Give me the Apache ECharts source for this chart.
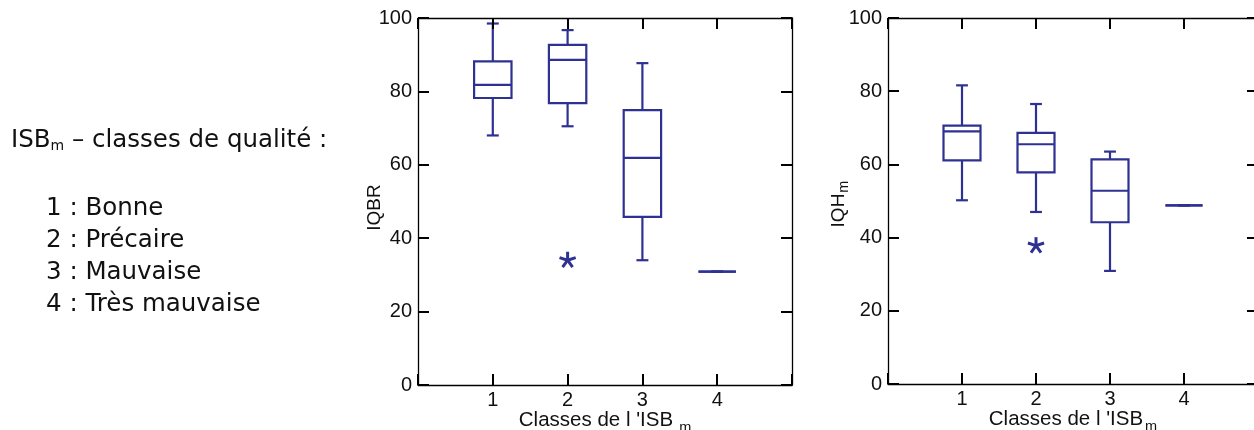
<!DOCTYPE html>
<html>
<head>
<meta charset="utf-8">
<script src="https://cdn.jsdelivr.net/npm/echarts@6/dist/echarts.min.js"></script>
<style>
    html, body { margin: 0; padding: 0; background: #fff; }
    #chart { width: 1254px; height: 430px; }
</style>
</head>
<body>
<div id="chart"></div>
<script type="text/javascript">
    // classes de qualité de l'ISBm
    const classes = [1, 2, 3, 4];
    const qualityLabels = ['Bonne', 'Précaire', 'Mauvaise', 'Très mauvaise'];
    const yTicks = [0, 20, 40, 60, 80, 100];

    // IQBR : [min, Q1, médiane, Q3, max] par classe
    const iqbrMin    = [68.0, 70.5, 34.0, 30.9];
    const iqbrQ1     = [78.2, 76.8, 45.8, 30.9];
    const iqbrMedian = [81.8, 88.6, 61.9, 30.9];
    const iqbrQ3     = [88.2, 92.7, 74.9, 30.9];
    const iqbrMax    = [98.5, 96.7, 87.7, 30.9];
    const iqbrOutliers = [[2, 34.0]];

    // IQHm : [min, Q1, médiane, Q3, max] par classe
    const iqhMin    = [50.2, 47.0, 30.9, 48.8];
    const iqhQ1     = [61.1, 57.8, 44.2, 48.8];
    const iqhMedian = [69.0, 65.5, 52.8, 48.8];
    const iqhQ3     = [70.6, 68.6, 61.4, 48.8];
    const iqhMax    = [81.6, 76.5, 63.5, 48.8];
    const iqhOutliers = [[2, 37.8]];

    const FONT = '"Liberation Sans", Arial, sans-serif';
    const boxColor = '#2e3192';
    const textColor = '#111';

    let chart = echarts.init(document.getElementById('chart'));

    function boxRows(mins, q1s, meds, q3s, maxs) {
        return classes.map((c, i) => [c, mins[i], q1s[i], meds[i], q3s[i], maxs[i]]);
    }

    // boîte à moustaches dessinée via les axes de la grille
    function renderBox(params, api) {
        const x = api.value(0);
        const lo = api.coord([x, api.value(1)]);
        const q1 = api.coord([x, api.value(2)]);
        const med = api.coord([x, api.value(3)]);
        const q3 = api.coord([x, api.value(4)]);
        const hi = api.coord([x, api.value(5)]);
        const band = api.size([1, 0])[0];
        const hw = band * 0.25;
        const cw = band * 0.08;
        const style = { stroke: boxColor, lineWidth: 2.2, fill: null };
        const cx = med[0];
        return {
            type: 'group',
            children: [
                { type: 'line', shape: { x1: cx, y1: lo[1], x2: cx, y2: q1[1] }, style: style },
                { type: 'line', shape: { x1: cx, y1: q3[1], x2: cx, y2: hi[1] }, style: style },
                { type: 'line', shape: { x1: cx - cw, y1: lo[1], x2: cx + cw, y2: lo[1] }, style: style },
                { type: 'line', shape: { x1: cx - cw, y1: hi[1], x2: cx + cw, y2: hi[1] }, style: style },
                { type: 'rect', shape: { x: cx - hw, y: q3[1], width: hw * 2, height: q1[1] - q3[1] }, style: style },
                { type: 'line', shape: { x1: cx - hw, y1: med[1], x2: cx + hw, y2: med[1] }, style: style }
            ]
        };
    }

    // valeurs extrêmes : astérisque
    function renderStar(params, api) {
        const p = api.coord([api.value(0), api.value(1)]);
        const r = 8.5;
        const children = [];
        for (let k = 0; k < 5; k++) {
            const a = -Math.PI / 2 + k * 2 * Math.PI / 5;
            children.push({
                type: 'line',
                shape: { x1: p[0], y1: p[1], x2: p[0] + r * Math.cos(a), y2: p[1] + r * Math.sin(a) },
                style: { stroke: boxColor, lineWidth: 3 }
            });
        }
        return { type: 'group', children: children };
    }

    const tickStyle = { color: '#000', width: 2 };
    const lineStyle = { color: '#000', width: 1.3 };

    function bottomAxis(g, nameRich) {
        return {
            gridIndex: g, type: 'value', position: 'bottom', min: 0, max: 5, interval: 1,
            axisLine: { show: true, onZero: false, lineStyle: lineStyle },
            axisTick: { show: true, inside: true, length: 11, lineStyle: tickStyle },
            axisLabel: {
                margin: 5, fontSize: 20, color: textColor, fontFamily: FONT,
                formatter: v => classes.includes(v) ? String(v) : ''
            },
            splitLine: { show: false },
            name: nameRich, nameLocation: 'middle', nameGap: 25, nameMoveOverlap: false,
            nameTextStyle: {
                color: textColor, fontFamily: FONT,
                rich: {
                    a: { fontSize: 20.5, lineHeight: 23, verticalAlign: 'top', color: textColor, fontFamily: FONT },
                    s: { fontSize: 14.5, lineHeight: 14, padding: [10, 0, 0, 2], verticalAlign: 'top', color: textColor, fontFamily: FONT }
                }
            }
        };
    }
    function topAxis(g) {
        return {
            gridIndex: g, type: 'value', position: 'top', min: 0, max: 5, interval: 1, z: 5,
            axisLine: { show: true, onZero: false, lineStyle: lineStyle },
            axisTick: { show: true, inside: true, length: 11, lineStyle: tickStyle },
            axisLabel: { show: false },
            splitLine: { show: false }
        };
    }
    function leftAxis(g, nameRich, gap, shift) {
        return {
            gridIndex: g, type: 'value', position: 'left', min: 0, max: 100, interval: 20,
            axisLine: { show: true, onZero: false, lineStyle: lineStyle },
            axisTick: { show: true, inside: true, length: 11, lineStyle: tickStyle },
            axisLabel: {
                margin: 6, fontSize: 20, color: textColor, fontFamily: FONT,
                formatter: v => yTicks.includes(v) ? String(v) : ''
            },
            splitLine: { show: false },
            name: nameRich, nameLocation: 'middle', nameGap: gap, nameMoveOverlap: false,
            nameTextStyle: {
                color: textColor, fontFamily: FONT, padding: [0, shift, 0, 0],
                rich: {
                    a: { fontSize: 19, lineHeight: 21, verticalAlign: 'top', color: textColor, fontFamily: FONT },
                    s: { fontSize: 14.5, lineHeight: 14, padding: [7, 0, 0, 1], verticalAlign: 'top', color: textColor, fontFamily: FONT }
                }
            }
        };
    }
    function rightAxis(g) {
        return {
            gridIndex: g, type: 'value', position: 'right', min: 0, max: 100, interval: 20,
            axisLine: { show: true, onZero: false, lineStyle: lineStyle },
            axisTick: { show: true, inside: true, length: 11, lineStyle: tickStyle },
            axisLabel: { show: false },
            splitLine: { show: false }
        };
    }

    let option = {
        animation: false,
        backgroundColor: '#fff',
        grid: [
            { left: 418, top: 18, width: 374, height: 367, outerBoundsMode: 'none', containLabel: false },
            { left: 888, top: 18, width: 370, height: 366, outerBoundsMode: 'none', containLabel: false }
        ],
        xAxis: [
            bottomAxis(0, '{a|Classes de l \'ISB}{s| m}'),
            topAxis(0),
            bottomAxis(1, '{a|Classes de l \'ISB}{s|m}'),
            topAxis(1)
        ],
        yAxis: [
            leftAxis(0, '{a|IQBR}', 32, 12),
            rightAxis(0),
            leftAxis(1, '{a|IQH}{s|m}', 38, 6),
            rightAxis(1)
        ],
        graphic: [
            {
                type: 'text', x: 11, y: 128,
                style: {
                    text: '{a|ISB}{s|m}{a| – classes de qualité :}',
                    verticalAlign: 'top',
                    rich: {
                        a: { fontSize: 24.5, lineHeight: 28, verticalAlign: 'top', fontFamily: 'DejaVu Sans', fill: textColor },
                        s: { fontSize: 14, lineHeight: 14, padding: [11, 0, 0, 0], verticalAlign: 'top', fontFamily: 'DejaVu Sans', fill: textColor }
                    }
                }
            },
            {
                type: 'text', x: 46, y: 192,
                style: {
                    text: classes.map((c, i) => c + ' : ' + qualityLabels[i]).join('\n'),
                    font: '24.5px "DejaVu Sans"',
                    lineHeight: 32.3,
                    verticalAlign: 'top',
                    fill: textColor
                }
            }
        ],
        series: [
            {
                type: 'custom', xAxisIndex: 0, yAxisIndex: 0,
                renderItem: renderBox,
                encode: { x: 0, y: [1, 2, 3, 4, 5] },
                data: boxRows(iqbrMin, iqbrQ1, iqbrMedian, iqbrQ3, iqbrMax)
            },
            {
                type: 'custom', xAxisIndex: 0, yAxisIndex: 0,
                renderItem: renderStar,
                encode: { x: 0, y: 1 },
                data: iqbrOutliers
            },
            {
                type: 'custom', xAxisIndex: 2, yAxisIndex: 2,
                renderItem: renderBox,
                encode: { x: 0, y: [1, 2, 3, 4, 5] },
                data: boxRows(iqhMin, iqhQ1, iqhMedian, iqhQ3, iqhMax)
            },
            {
                type: 'custom', xAxisIndex: 2, yAxisIndex: 2,
                renderItem: renderStar,
                encode: { x: 0, y: 1 },
                data: iqhOutliers
            }
        ]
    };

    chart.setOption(option);
</script>
</body>
</html>
